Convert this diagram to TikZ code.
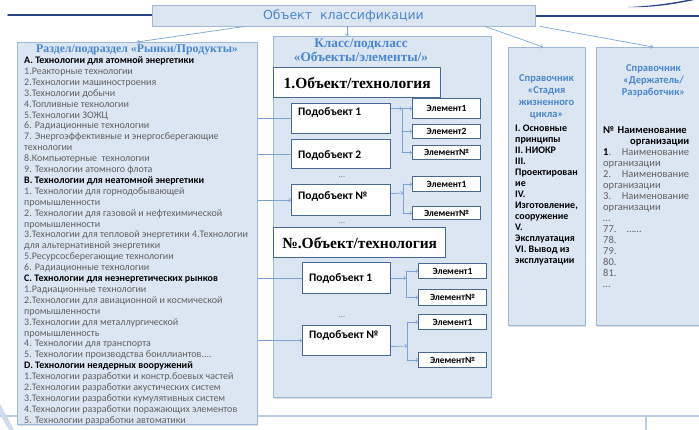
\documentclass[tikz,border=0pt]{standalone}
\usepackage{fontspec}
\setmainfont{Carlito}
\newfontfamily\tnrfont{Liberation Serif}
\newfontfamily\headfont{DejaVu Sans}
\usetikzlibrary{positioning,shadows}

\definecolor{panelfill}{RGB}{220,230,242}
\definecolor{panelline}{RGB}{160,184,216}
\definecolor{boxline}{RGB}{74,104,150}
\definecolor{linkblue}{RGB}{125,163,212}
\definecolor{headblue}{RGB}{74,134,208}
\definecolor{itemgray}{RGB}{96,96,96}
\definecolor{navy}{RGB}{40,66,140}
\definecolor{rulelight}{RGB}{184,204,228}

\newcommand{\secthd}[1]{{\color{black}\bfseries #1}}

\begin{document}
\begin{tikzpicture}[x=1pt, y=-1pt, line cap=round,
  panel/.style={draw=panelline, fill=panelfill, line width=0.8pt, inner sep=0pt,
    drop shadow={opacity=0.25, shadow xshift=1pt, shadow yshift=-1.2pt}},
  objbox/.style={draw=boxline, fill=white, line width=1.4pt, inner sep=0pt,
    font=\tnrfont\bfseries\fontsize{15.5}{17}\selectfont},
  subbox/.style={draw=boxline, fill=white, line width=1.2pt, inner sep=0pt},
  subtxt/.style={inner sep=0pt, font=\bfseries\fontsize{11.5}{13}\selectfont},
  elbox/.style={draw=boxline, fill=white, line width=1.1pt, inner sep=0pt,
    font=\bfseries\fontsize{9.5}{11}\selectfont},
  link/.style={draw=linkblue, line width=0.7pt},
  dots/.style={inner sep=0pt, font=\fontsize{8}{9}\selectfont, text=itemgray}]
  \useasboundingbox (0,0) rectangle (699,430);
  \clip (0,0) rectangle (699,430);
  % ---------- slide decoration ----------
  \draw[navy, line width=1.8pt] (8,15) -- (152,15);
  \draw[navy, line width=1.8pt] (535,16) -- (699,16);
  \fill[navy] (628,7) .. controls (655,6) and (678,2) .. (692,-1) -- (699,-1)
    .. controls (680,3) and (656,8) .. (628,7);
  \draw[rulelight, line width=1.2pt] (0,416) -- (699,416);
  \draw[rulelight, line width=1.2pt] (646,416) -- (646,430);
  \fill[rulelight!70] (0,404) -- (14,430) -- (9,430) -- (0,414) -- cycle;
  % ---------- title ----------
  \node[panel, minimum width=383pt, minimum height=21pt, text=headblue,
    font=\headfont\fontsize{12.5}{14}\selectfont] (obj) at (343.5,15.5) {Объект\ \ классификации};
  % ---------- 1. markets / products ----------
  \node[panel, anchor=north west, minimum width=240pt, minimum height=382pt] (mkt) at (17,42) {};
  \node[text=headblue, font=\tnrfont\bfseries\fontsize{11.8}{13}\selectfont] (mktT) at (137,50)
    {Раздел/подраздел «Рынки/Продукты»};
  \node[anchor=north west, inner sep=0pt, align=left, text=itemgray,
    font=\fontsize{10}{10.9}\selectfont] (mktL) at (24,56.5) {%
    \secthd{A. Технологии для атомной энергетики}\\
    1.Реакторные технологии\\
    2.Технологии машиностроения\\
    3.Технологии добычи\\
    4.Топливные технологии\\
    5.Технологии ЗОЖЦ\\
    6. Радиационные технологии\\
    7. Энергоэффективные и энергосберегающие\\
    технологии\\
    8.Компьютерные\ \ технологии\\
    9. Технологии атомного флота\\
    \secthd{B. Технологии для неатомной энергетики}\\
    1. Технологии для горнодобывающей\\
    промышленности\\
    2. Технологии для газовой и нефтехимической\\
    промышленности\\
    3.Технологии для тепловой энергетики 4.Технологии\\
    для альтернативной энергетики\\
    5.Ресурсосберегающие технологии\\
    6. Радиационные технологии\\
    \secthd{C. Технологии для неэнергетических рынков}\\
    1.Радиационные технологии\\
    2.Технологии для авиационной и космической\\
    промышленности\\
    3.Технологии для металлургической\\
    промышленность\\
    4. Технологии для транспорта\\
    5. Технологии производства боиллиантов....\\
    \secthd{D. Технологии неядерных вооружений}\\
    1.Технологии разработки и констр.боевых частей\\
    2.Технологии разработки акустических систем\\
    3.Технологии разработки кумулятивных систем\\
    4.Технологии разработки поражающих элементов\\
    5. Технологии разработки автоматики};
  % ---------- 2. classes / objects ----------
  \node[panel, anchor=north west, minimum width=218pt, minimum height=361pt] (cls) at (273,36) {};
  \node[align=center, text=headblue, font=\tnrfont\bfseries\fontsize{13.3}{14}\selectfont] (clsT)
    at (361,50) {Класс/подкласс\\«Объекты/элементы/»};
  \node[objbox, anchor=north west, minimum width=167pt, minimum height=30pt] (o1) at (273,67) {1.Объект/технология};
  \node[objbox, anchor=north west, minimum width=172pt, minimum height=30pt] (oN) at (273,227) {№.Объект/технология};
  % sub-objects
  \node[subbox, anchor=north west, minimum width=99pt, minimum height=30pt] (s11) at (291,103) {};
  \node[subbox, anchor=north west, minimum width=99pt, minimum height=29pt] (s12) at (291,139) {};
  \node[subbox, anchor=north west, minimum width=99pt, minimum height=31pt] (s1N) at (291,184) {};
  \node[subbox, anchor=north west, minimum width=88pt, minimum height=31pt] (s21) at (302,262) {};
  \node[subbox, anchor=north west, minimum width=88pt, minimum height=30pt] (s2N) at (302,325) {};
  \node[subtxt, anchor=west] (s11t) at (298,112) {Подобъект 1};
  \node[subtxt, anchor=west] (s12t) at (298,155) {Подобъект 2};
  \node[subtxt, anchor=west] (s1Nt) at (298,196) {Подобъект №};
  \node[subtxt, anchor=west] (s21t) at (309,278) {Подобъект 1};
  \node[subtxt, anchor=west] (s2Nt) at (309,335) {Подобъект №};
  \node[dots] (d1) at (342,177) {...};
  \node[dots] (d2) at (342,223) {...};
  \node[dots] (d3) at (342,317) {...};
  % elements
  \foreach \n/\x/\y/\h/\t in {e111/412/98/20/Элемент1, e112/412/124/14/Элемент2,
      e11N/412/145/14/Элемент№, e1N1/412/176/15/Элемент1, e1NN/412/206/13/Элемент№,
      e211/418/263/15/Элемент1, e21N/418/289/16/Элемент№,
      e2N1/418/314/15/Элемент1, e2NN/418/352/15/Элемент№}
    \node[elbox, anchor=north west, minimum width=68pt, minimum height=\h pt] (\n) at (\x,\y) {\t};
  % ---------- connectors inside the class box ----------
  \foreach \s in {s11,s12,s21} \draw[link] (mkt.east |- \s.west) -- (\s.west);
  \foreach \s in {s1N,s2N} \draw[link,->] (mkt.east |- \s.west) -- (\s.west);
  \coordinate (k11) at (402,0);
  \coordinate (k1N) at (403,0);
  \coordinate (k21) at (406,0);
  \coordinate (k2N) at (407,0);
  \draw[link,->] (s11.east |- e111.west) -- (k11 |- e111.west);
  \draw[link] (k11 |- e111.west) -- (k11 |- e11N.west);
  \foreach \e in {e111,e112,e11N} \draw[link,->] (k11 |- \e.west) -- (\e.west);
  \draw[link,->] ([yshift=6.5pt]s1N.east) -- (k1N |- 0,193);
  \draw[link] (k1N |- e1N1.west) -- (k1N |- e1NN.west);
  \foreach \e in {e1N1,e1NN} \draw[link,->] (k1N |- \e.west) -- (\e.west);
  \draw[link,->] (s21.east) -- (k21 |- s21.east);
  \draw[link] (k21 |- e211.west) -- (k21 |- e21N.west);
  \foreach \e in {e211,e21N} \draw[link,->] (k21 |- \e.west) -- (\e.west);
  \draw[link,->] ([yshift=-6pt]s2N.east) -- (k2N |- 0,346);
  \draw[link] (k2N |- e2N1.west) -- (k2N |- e2NN.west);
  \foreach \e in {e2N1,e2NN} \draw[link,->] (k2N |- \e.west) -- (\e.west);
  % ---------- 3. life cycle ----------
  \node[panel, anchor=north west, minimum width=77pt, minimum height=278pt] (lcy) at (508,47) {};
  \node[anchor=north, align=center, text=headblue, font=\bfseries\fontsize{10.5}{12}\selectfont] (lcyT)
    at (546.5,71) {Справочник\\«Стадия\\жизненного\\цикла»};
  \node[anchor=north west, inner sep=0pt, align=left, font=\bfseries\fontsize{10}{11}\selectfont] (lcyL)
    at (515,124.5) {I. Основные\\принципы\\II. НИОКР\\III.\\Проектирован\\ие\\IV.\\Изготовление,\\сооружение\\V.\\Эксплуатация\\VI. Вывод из\\эксплуатации};
  % ---------- 4. holder / developer ----------
  \node[panel, anchor=north west, minimum width=115pt, minimum height=278pt] (hld) at (596,47) {};
  \node[anchor=north, align=center, text=headblue, font=\bfseries\fontsize{10.5}{12}\selectfont] (hldT)
    at (653.5,61) {Справочник\\«Держатель/\\Разработчик»};
  \node[anchor=north west, inner sep=0pt, text width=86pt, align=left, text=itemgray,
    font=\fontsize{10.5}{11}\selectfont] (hldL) at (603,126.5) {%
    \secthd{№ Наименование}\\
    \hfill\secthd{организации}\hfill\\
    \secthd{1}.\hfill Наименование\\
    организации\\
    2.\hfill Наименование\\
    организации\\
    3.\hfill Наименование\\
    организации\\
    …\\
    77.\quad ……\\
    78.\\
    79.\\
    80.\\
    81.\\
    …};
  % ---------- arrows from the title ----------
  \draw[link,->] (245,0 |- obj.south) -- (137,0 |- mkt.north);
  \draw[link,->] (347,0 |- obj.south) -- (347,0 |- cls.north);
  \draw[link,->] (485,0 |- obj.south) -- (543,0 |- lcy.north);
  \draw[link,->] (540,0 |- obj.south) -- (653,0 |- hld.north);
\end{tikzpicture}
\end{document}
